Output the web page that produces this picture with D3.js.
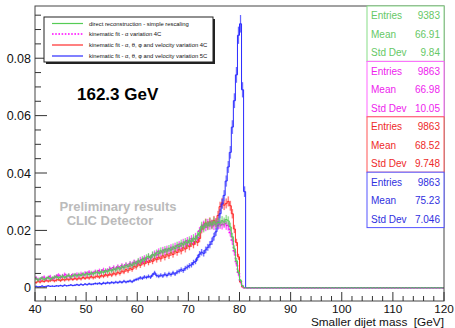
<!DOCTYPE html>
<html><head><meta charset="utf-8">
<script src="https://cdn.jsdelivr.net/npm/d3@7"></script>
<style>
body{margin:0;background:#fff}
svg{display:block;font-family:"Liberation Sans",Arial,Helvetica,sans-serif}
</style>
</head><body>
<svg id="chart" width="455" height="328"></svg>
<script>
// ---- data (bin contents, in units of 1e-4, 0.4 GeV bins starting at 40 GeV; zero afterwards) ----
const binStart = 40;
const binWidth = 0.4;
const xDomainEnd = 120;
const valueUnit = 1e-4;

const greenValues = [
  32,27,31,34,29,33,36,30,34,37,
  39,34,38,41,36,40,44,38,42,45,
  41,46,43,48,45,50,46,52,48,53,
  55,50,57,53,60,56,63,59,66,62,
  70,65,74,70,78,74,82,78,87,84,
  94,89,100,96,106,110,104,116,112,122,
  120,129,124,133,128,137,132,142,137,148,
  144,155,150,160,156,166,161,173,169,183,
  192,215,208,224,216,227,219,230,222,228,
  226,234,229,238,233,212,178,136,94,55,
  26,7,0
];
const magentaValues = [
  35,30,28,34,37,31,35,39,32,36,
  40,44,37,42,46,39,43,38,45,42,
  47,43,49,45,51,47,54,49,52,56,
  53,59,55,62,57,61,67,62,70,65,
  73,68,77,72,80,75,84,80,89,86,
  91,98,93,103,99,108,103,113,119,115,
  126,121,131,126,135,130,140,135,145,141,
  150,147,158,153,164,159,170,165,178,176,
  198,209,219,212,225,217,222,216,226,221,
  220,218,224,217,214,193,163,124,84,48,
  21,5,0
];
const redValues = [
  18,23,20,24,22,26,23,25,28,24,
  27,29,25,30,27,31,28,32,29,33,
  30,34,31,36,33,37,34,39,35,38,
  41,37,43,40,46,42,48,44,51,47,
  54,50,58,55,63,59,68,64,75,72,
  84,78,88,83,93,88,97,92,103,98,
  107,101,112,106,117,111,122,116,128,123,
  134,128,140,135,148,143,155,150,163,158,
  172,204,215,226,218,230,222,235,228,252,
  283,296,288,294,301,286,258,205,158,108,
  20,3,0
];
const blueValues = [
  5,3,4,6,4,5,7,5,6,5,
  7,6,8,6,9,7,8,10,8,9,
  11,9,12,10,13,11,14,12,13,15,
  14,16,13,17,15,18,16,19,17,20,
  18,21,19,23,20,22,24,21,26,29,
  31,35,33,38,36,40,37,45,52,43,
  40,44,41,47,43,49,46,52,48,55,
  58,63,60,68,72,77,80,88,92,105,
  117,124,120,132,141,150,162,178,195,218,
  258,292,322,372,421,472,560,652,742,880,
  920,690,335
];

const seriesLabels = [
  "direct reconstruction - simple rescaling",
  "kinematic fit - \u03B1 variation 4C",
  "kinematic fit - \u03B1, \u03B8, \u03C6 and velocity variation 4C",
  "kinematic fit - \u03B1, \u03B8, \u03C6 and velocity variation 5C"
];
const statNames = ["Entries", "Mean", "Std Dev"];
const greenStats = ["9383", "66.91", "9.84"];
const magentaStats = ["9863", "66.98", "10.05"];
const redStats = ["9863", "68.52", "9.748"];
const blueStats = ["9863", "75.23", "7.046"];
const entries = [9383, 9863, 9863, 9863];

const xMajorTicks = [40, 50, 60, 70, 80, 90, 100, 110, 120];
const xMinorTicks = d3.range(40, 121, 2);
const yMajorTicks = [0, 0.02, 0.04, 0.06, 0.08];
const yMinorTicks = [0,0.005,0.01,0.015,0.02,0.025,0.03,0.035,0.04,0.045,0.05,0.055,0.06,0.065,0.07,0.075,0.08,0.085,0.09,0.095];
const yTickLabels = ["0", "0.02", "0.04", "0.06", "0.08"];

const energyLabel = "162.3 GeV";
const watermark = ["Preliminary results", "CLIC Detector"];
const xTitle = "Smaller dijet mass  [GeV]";

// ---- styles ----
const lineColors = ["#55cc55", "#ff00ff", "#ff2b2b", "#2a2aff"];
const textColors = ["#66c866", "#ee22ee", "#ee2a2a", "#3030e0"];
const boxColors = ["#88dd88", "#ff66ff", "#ff5555", "#5555ff"];

// ---- layout ----
const svg = d3.select("#chart");
const W = 455, H = 328;
const plot = {left: 35, right: 444, top: 6, bottom: 301};
const x = d3.scaleLinear().domain([binStart, xDomainEnd]).range([plot.left, plot.right]);
const y = d3.scaleLinear().domain([-0.0046, 0.0982]).range([plot.bottom, plot.top]);

svg.append("rect").attr("width", W).attr("height", H).attr("fill", "#fff");

svg.append("defs").append("clipPath").attr("id", "pc")
  .append("rect").attr("x", plot.left).attr("y", plot.top)
  .attr("width", plot.right - plot.left).attr("height", plot.bottom - plot.top);

const allSeries = [
  {vals: greenValues, idx: 0, dash: null},
  {vals: magentaValues, idx: 1, dash: "1.6,1.6"},
  {vals: redValues, idx: 2, dash: null},
  {vals: blueValues, idx: 3, dash: null}
];
const drawOrder = [2, 3, 1, 0];

const gData = svg.append("g").attr("clip-path", "url(#pc)");

drawOrder.forEach(k => {
  const s = allSeries[k];
  const col = lineColors[s.idx];
  const N = entries[s.idx];
  const vals = s.vals.map(v => v * valueUnit);
  const g = gData.append("g");
  vals.forEach((v, i) => {
    if (v <= 0) return;
    const e = Math.sqrt(v * N) / N;
    const x0 = binStart + i * binWidth, x1 = x0 + binWidth, xc = x0 + binWidth / 2;
    g.append("rect")
      .attr("x", x(x0)).attr("width", x(x1) - x(x0))
      .attr("y", y(v + e)).attr("height", y(v - e) - y(v + e))
      .attr("fill", col).attr("fill-opacity", 0.16);
    g.append("line")
      .attr("x1", x(xc)).attr("x2", x(xc))
      .attr("y1", y(v + e)).attr("y2", y(v - e))
      .attr("stroke", col).attr("stroke-width", 0.8).attr("stroke-opacity", 0.85);
  });
  const pts = vals.map((v, i) => [binStart + i * binWidth, v]);
  pts.push([binStart + vals.length * binWidth, 0]);
  pts.push([xDomainEnd, 0]);
  const line = d3.line().x(d => x(d[0])).y(d => y(d[1])).curve(d3.curveStepAfter);
  g.append("path").attr("d", line(pts))
    .attr("fill", "none").attr("stroke", col)
    .attr("stroke-width", s.dash ? 1.6 : 1)
    .attr("stroke-dasharray", s.dash);
});

// ---- frame and axes ----
svg.append("rect").attr("x", plot.left).attr("y", plot.top)
  .attr("width", plot.right - plot.left).attr("height", plot.bottom - plot.top)
  .attr("fill", "none").attr("stroke", "#444").attr("stroke-width", 1);

const gx = svg.append("g");
xMinorTicks.forEach(t => {
  const major = xMajorTicks.includes(t);
  gx.append("line").attr("x1", x(t)).attr("x2", x(t))
    .attr("y1", plot.bottom).attr("y2", plot.bottom - (major ? 9 : 5))
    .attr("stroke", "#333").attr("stroke-width", 1);
});
xMajorTicks.forEach(t => {
  gx.append("text").attr("x", x(t)).attr("y", 312.5)
    .attr("text-anchor", "middle").attr("font-size", 11.8).attr("fill", "#111").text(t);
});
svg.append("text").attr("x", plot.right).attr("y", 325.5)
  .attr("text-anchor", "end").attr("font-size", 11.8).attr("fill", "#111")
  .style("white-space", "pre").text(xTitle);

const gy = svg.append("g");
yMinorTicks.forEach(t => {
  const major = yMajorTicks.some(m => Math.abs(m - t) < 1e-9);
  gy.append("line").attr("y1", y(t)).attr("y2", y(t))
    .attr("x1", plot.left).attr("x2", plot.left + (major ? 12 : 6))
    .attr("stroke", "#333").attr("stroke-width", 1);
});
yMajorTicks.forEach((t, i) => {
  gy.append("text").attr("x", 31).attr("y", y(t) + 4.5)
    .attr("text-anchor", "end").attr("font-size", 12.5).attr("fill", "#111").text(yTickLabels[i]);
});

// ---- legend ----
const leg = {x: 44, y: 17, w: 169, h: 45};
svg.append("rect").attr("x", leg.x + 2).attr("y", leg.y + 2).attr("width", leg.w).attr("height", leg.h).attr("fill", "#222");
svg.append("rect").attr("x", leg.x).attr("y", leg.y).attr("width", leg.w).attr("height", leg.h)
  .attr("fill", "#fff").attr("stroke", "#222").attr("stroke-width", 1);
const legRows = [23.5, 34, 45, 56];
seriesLabels.forEach((lab, i) => {
  const ly = legRows[i];
  svg.append("line").attr("x1", 52).attr("x2", 83).attr("y1", ly).attr("y2", ly)
    .attr("stroke", lineColors[i]).attr("stroke-width", i === 1 ? 1.6 : 1.2)
    .attr("stroke-dasharray", allSeries[i].dash);
  svg.append("text").attr("x", 89).attr("y", ly + 2.1).attr("font-size", 5.85).attr("fill", "#111").text(lab);
});

// ---- stats boxes ----
const statsAll = [greenStats, magentaStats, redStats, blueStats];
const boxTop = 6, boxH = 55.4, boxL = 367, boxR = 444;
statsAll.forEach((st, i) => {
  const top = boxTop + i * boxH;
  svg.append("rect").attr("x", boxL).attr("y", top).attr("width", boxR - boxL).attr("height", boxH)
    .attr("fill", "#fff").attr("stroke", boxColors[i]).attr("stroke-width", 1);
  [13.3, 31.9, 50.3].forEach((off, r) => {
    svg.append("text").attr("x", boxL + 4).attr("y", top + off).attr("font-size", 10)
      .attr("fill", textColors[i]).text(statNames[r]);
    svg.append("text").attr("x", boxR - 4).attr("y", top + off).attr("font-size", 10)
      .attr("text-anchor", "end").attr("fill", textColors[i]).text(st[r]);
  });
});

// ---- annotations ----
svg.append("text").attr("x", 77).attr("y", 100).attr("font-size", 17).attr("font-weight", "bold")
  .attr("fill", "#000").text(energyLabel);
svg.append("text").attr("x", 118).attr("y", 210.5).attr("text-anchor", "middle")
  .attr("font-size", 13).attr("font-weight", "bold").attr("fill", "#bbb").text(watermark[0]);
svg.append("text").attr("x", 110).attr("y", 224.5).attr("text-anchor", "middle")
  .attr("font-size", 13).attr("font-weight", "bold").attr("fill", "#bbb").text(watermark[1]);
</script>
</body></html>
